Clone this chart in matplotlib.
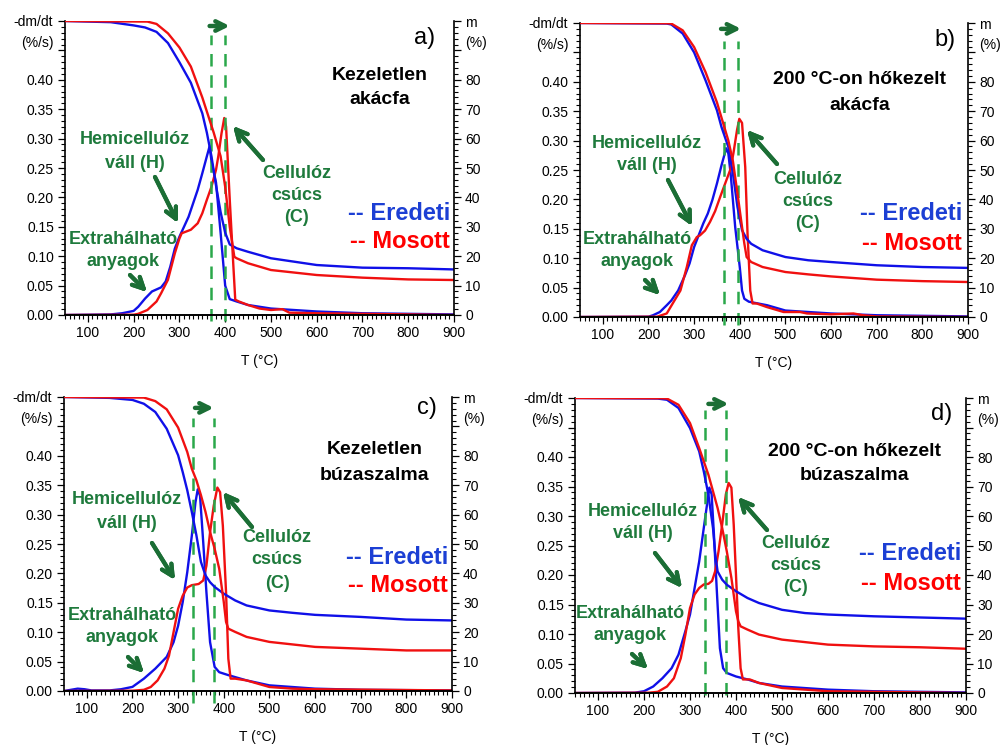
import numpy as np
import matplotlib.pyplot as plt
from matplotlib.ticker import MultipleLocator, FixedLocator, FuncFormatter

plt.rcParams['font.family'] = ['Liberation Sans', 'DejaVu Sans']

# ---- adatok (leolvasva az abrarol) ----
# a) Kezeletlen akacfa
a_tg_e_T = [50, 150, 200, 225, 250, 275, 300, 325, 350, 360, 370, 380, 390, 400, 410, 425, 450, 500, 600, 700, 800, 900]
a_tg_e = [100, 99.6, 98.5, 97.8, 96.3, 92.5, 86, 79, 68.6, 62, 54, 44, 35, 28, 24, 22.7, 21.5, 19.3, 17, 16.1, 15.9, 15.5]
a_tg_m_T = [50, 230, 250, 275, 300, 325, 350, 375, 390, 400, 410, 420, 425, 450, 500, 600, 700, 800, 900]
a_tg_m = [100, 99.8, 99, 95.8, 91, 84.5, 74, 62, 54, 43.6, 30, 19.8, 19.3, 17.6, 15.3, 13.6, 12.7, 12.1, 11.9]
a_dtg_e_T = [50, 150, 175, 200, 210, 225, 240, 260, 270, 280, 290, 300, 310, 320, 330, 340, 350, 360, 366, 370,
             380, 390, 400, 410, 425, 450, 500, 550, 600, 700, 800, 900]
a_dtg_e = [0.0, 0.001, 0.003, 0.007, 0.014, 0.028, 0.040, 0.047, 0.057, 0.082, 0.113, 0.133, 0.150, 0.167, 0.190,
           0.213, 0.241, 0.270, 0.287, 0.262, 0.225, 0.140, 0.050, 0.027, 0.023, 0.017, 0.011, 0.0085, 0.006, 0.003,
           0.002, 0.001]
a_dtg_m_T = [50, 200, 210, 230, 250, 260, 275, 290, 300, 305, 315, 325, 340, 350, 360, 370, 380, 385, 392, 398, 402,
             410, 418, 422, 430, 450, 475, 500, 525, 540, 600, 700, 900]
a_dtg_m = [0, 0.0005, 0.002, 0.0085, 0.023, 0.037, 0.060, 0.105, 0.130, 0.139, 0.142, 0.145, 0.156, 0.173, 0.196,
           0.218, 0.247, 0.270, 0.309, 0.335, 0.320, 0.196, 0.082, 0.026, 0.023, 0.017, 0.011, 0.0085, 0.010, 0.004,
           0.003, 0.002, 0.0]

# b) 200 °C-on hokezelt akacfa
b_tg_e_T = [50, 240, 250, 275, 300, 325, 350, 360, 375, 385, 395, 405, 415, 425, 450, 500, 550, 600, 700, 800, 900]
b_tg_e = [100, 99.8, 99.5, 96.4, 90, 80.5, 70.3, 64.6, 57.8, 48.8, 37.4, 29.5, 26.6, 24.9, 22.7, 20.4, 19.3, 18.7,
          17.6, 17.0, 16.7]
b_tg_m_T = [50, 240, 250, 275, 300, 325, 350, 375, 385, 395, 405, 410, 415, 425, 450, 500, 550, 600, 700, 800, 900]
b_tg_m = [100, 99.9, 99.8, 97.5, 91.8, 83.3, 73, 60, 53, 42, 30.6, 25, 20.4, 18.7, 17, 15.3, 14.5, 13.8, 12.7, 12.2,
          11.9]
b_dtg_e_T = [50, 200, 210, 225, 240, 250, 265, 280, 290, 300, 310, 320, 330, 340, 350, 360, 365, 370, 375, 380, 390,
             400, 405, 410, 420, 440, 460, 500, 550, 600, 650, 700, 900]
b_dtg_e = [0, 0.0005, 0.003, 0.0085, 0.020, 0.028, 0.045, 0.071, 0.091, 0.119, 0.139, 0.159, 0.176, 0.199, 0.227,
           0.258, 0.272, 0.287, 0.278, 0.244, 0.153, 0.085, 0.045, 0.031, 0.026, 0.023, 0.020, 0.011, 0.0085, 0.006,
           0.0045, 0.003, 0.001]
b_dtg_m_T = [50, 219, 240, 270, 284, 295, 306, 313, 324, 335, 346, 357, 368, 379, 386, 394, 399, 405, 412, 417, 423,
             428, 437, 459, 496, 532, 547, 600, 649, 670, 700, 900]
b_dtg_m = [0, 0.0005, 0.006, 0.045, 0.085, 0.122, 0.136, 0.139, 0.147, 0.162, 0.180, 0.204, 0.227, 0.250, 0.278,
           0.318, 0.337, 0.330, 0.255, 0.142, 0.045, 0.023, 0.023, 0.017, 0.0085, 0.0085, 0.006, 0.0045, 0.006, 0.003,
           0.001, 0.0]

# c) Kezeletlen buzaszalma
c_tg_e_T = [50, 150, 200, 225, 250, 275, 300, 310, 320, 330, 340, 350, 360, 370, 380, 400, 425, 450, 500, 550, 600,
            700, 800, 900]
c_tg_e = [100, 99.7, 99, 97.7, 94.9, 89.2, 80.2, 74.5, 68.3, 60.9, 53, 43.9, 39.3, 37, 35.4, 33.1, 30.8, 29.1, 27.4,
          26.6, 25.9, 25.2, 24.3, 24]
c_tg_m_T = [50, 225, 250, 275, 300, 320, 330, 340, 350, 360, 370, 380, 390, 400, 405, 410, 425, 450, 500, 600, 700,
            800, 900]
c_tg_m = [100, 99.8, 98.6, 95.8, 89.6, 81.3, 75.6, 71.7, 66.6, 60.9, 54.1, 48.4, 41.6, 30.3, 23.5, 21.2, 20.1, 18.4,
          16.7, 15, 14.4, 13.8, 13.8]
c_dtg_e_T = [50, 65, 80, 95, 110, 150, 175, 200, 225, 250, 275, 290, 300, 310, 320, 330, 338, 343, 348, 355, 362, 370,
             380, 390, 410, 450, 500, 600, 700, 900]
c_dtg_e = [0, 0.002, 0.004, 0.003, 0.001, 0.001, 0.003, 0.007, 0.021, 0.038, 0.058, 0.083, 0.111, 0.151, 0.202,
           0.264, 0.321, 0.343, 0.332, 0.253, 0.168, 0.083, 0.041, 0.032, 0.027, 0.018, 0.0096, 0.004, 0.002, 0.001]
c_dtg_m_T = [50, 200, 225, 240, 255, 270, 280, 290, 300, 310, 320, 330, 345, 355, 362, 370, 378, 386, 392, 398, 405,
             410, 415, 425, 450, 500, 550, 600, 900]
c_dtg_m = [0, 0.0005, 0.002, 0.0068, 0.018, 0.038, 0.060, 0.100, 0.140, 0.162, 0.176, 0.180, 0.182, 0.188, 0.213,
           0.270, 0.315, 0.346, 0.338, 0.281, 0.168, 0.055, 0.021, 0.021, 0.018, 0.0068, 0.004, 0.003, 0.001]

# d) 200 °C-on hokezelt buzaszalma
d_tg_e_T = [50, 230, 250, 275, 300, 320, 330, 340, 350, 355, 360, 370, 380, 400, 425, 450, 500, 550, 600, 700, 800, 900]
d_tg_e = [100, 99.8, 99.4, 96.6, 89.8, 81.9, 75.1, 67.2, 55.9, 46.9, 41.2, 38.4, 36.7, 34.5, 32.2, 30.5, 28.2, 27.1,
          26.6, 26, 25.6, 25.2]
d_tg_m_T = [50, 240, 250, 275, 300, 320, 330, 340, 350, 360, 370, 380, 390, 400, 405, 410, 425, 450, 500, 600, 700,
            800, 900]
d_tg_m = [100, 99.9, 99.8, 97.7, 91.5, 83, 78.5, 74, 68.4, 62.7, 55.9, 48, 39, 27.7, 24.3, 22.6, 21.5, 19.8, 18.1,
          16.4, 15.8, 15.5, 15]
d_dtg_e_T = [50, 180, 200, 220, 240, 260, 275, 290, 300, 310, 320, 330, 338, 342, 347, 352, 358, 365, 372, 380, 400,
             425, 450, 500, 600, 700, 900]
d_dtg_e = [0, 0.0005, 0.003, 0.011, 0.025, 0.042, 0.065, 0.105, 0.133, 0.178, 0.223, 0.280, 0.325, 0.348, 0.337,
           0.269, 0.178, 0.076, 0.042, 0.034, 0.028, 0.023, 0.017, 0.011, 0.0057, 0.003, 0.001]
d_dtg_m_T = [50, 210, 230, 250, 265, 280, 290, 300, 310, 320, 330, 340, 348, 355, 362, 370, 378, 384, 390, 395, 400,
             405, 410, 415, 430, 450, 500, 600, 900]
d_dtg_m = [0, 0.0005, 0.002, 0.011, 0.025, 0.059, 0.099, 0.144, 0.167, 0.178, 0.184, 0.185, 0.190, 0.207, 0.240,
           0.286, 0.337, 0.356, 0.348, 0.286, 0.200, 0.110, 0.042, 0.023, 0.023, 0.017, 0.0085, 0.003, 0.0]

# H es C csucs helye (szaggatott vonalak) es a nyil T-tartomanya
a_peaks = [369, 400]
b_peaks = [366, 397]
c_peaks = [332, 379]
d_peaks = [333, 379]
a_shift = [366, 410]
b_shift = [359, 403]
c_shift = [337, 378]
d_shift = [340, 384]

letters = ['a)', 'b)', 'c)', 'd)']
titles = [['Kezeletlen', 'akácfa'], ['200 °C-on hőkezelt', 'akácfa'],
          ['Kezeletlen', 'búzaszalma'], ['200 °C-on hőkezelt', 'búzaszalma']]
green_lines = ['Hemicellulóz', 'váll (H)', 'Extrahálható', 'anyagok', 'Cellulóz', 'csúcs', '(C)']
series_names = ['-- Eredeti', '-- Mosott']

BLUE = '#1010e8'
RED = '#f01010'
GREEN_TXT = '#1e7a3c'
GREEN_ARR = '#1b6e35'
GREEN_DASH = '#2aa84a'

W, H = 1003, 745
fig = plt.figure(figsize=(W / 100, H / 100), dpi=100)


def fxy(x, y):
    return (x / W, 1 - y / H)


def panel(rect, tg_e, tg_m, dtg_e, dtg_m, peaks, shift, arr_y, dash_span):
    ax = fig.add_axes(rect)
    ax2 = ax.twinx()
    ax.plot(dtg_e[0], dtg_e[1], color=BLUE, lw=1.7)
    ax.plot(dtg_m[0], dtg_m[1], color=RED, lw=1.7)
    ax2.plot(tg_e[0], tg_e[1], color=BLUE, lw=1.7)
    ax2.plot(tg_m[0], tg_m[1], color=RED, lw=1.7)

    ax.set_xlim(50, 900)
    ax.set_ylim(0, 0.5)
    ax2.set_ylim(0, 100)
    for p in peaks:
        ax.axvline(p, ymin=dash_span[0], ymax=dash_span[1], color=GREEN_DASH, lw=1.8,
                   dashes=(5, 3.5), clip_on=False)
    ax.annotate('', xy=(shift[1], arr_y), xytext=(shift[0], arr_y), xycoords=ax.get_xaxis_transform(),
                arrowprops=dict(arrowstyle='->', color=GREEN_ARR, lw=3.2, mutation_scale=17,
                                shrinkA=0, shrinkB=0), annotation_clip=False)

    for a in (ax, ax2):
        a.spines['top'].set_visible(False)
        for s in a.spines.values():
            s.set_linewidth(1.2)
    ax.spines['right'].set_visible(False)
    ax2.spines['left'].set_visible(False)

    ax.xaxis.set_major_locator(FixedLocator(range(100, 901, 100)))
    ax.xaxis.set_minor_locator(MultipleLocator(10))
    ax.yaxis.set_major_locator(MultipleLocator(0.05))
    ax.yaxis.set_minor_locator(MultipleLocator(0.01))
    ax.yaxis.set_major_formatter(FuncFormatter(lambda v, p: f'{v:.2f}' if v < 0.43 else ''))
    ax2.yaxis.set_major_locator(MultipleLocator(10))
    ax2.yaxis.set_minor_locator(MultipleLocator(2))
    ax2.yaxis.set_major_formatter(FuncFormatter(lambda v, p: f'{v:.0f}' if v < 85 else ''))
    for a in (ax, ax2):
        a.tick_params(which='major', direction='out', length=5, width=0.9, labelsize=10, pad=3)
        a.tick_params(which='minor', direction='out', length=2.8, width=0.8)

    ax.set_xlabel('T (°C)', fontsize=10, labelpad=10)
    ax.text(-0.03, 0.997, '-dm/dt', transform=ax.transAxes, ha='right', va='center', fontsize=10)
    ax.text(-0.03, 0.925, '(%/s)', transform=ax.transAxes, ha='right', va='center', fontsize=10)
    ax2.text(1.028, 0.993, 'm', transform=ax.transAxes, ha='left', va='center', fontsize=10)
    ax2.text(1.028, 0.925, '(%)', transform=ax.transAxes, ha='left', va='center', fontsize=10)
    return ax


rects = [
    [65 / W, 1 - 315 / H, 389 / W, 294 / H],
    [580 / W, 1 - 317 / H, 388 / W, 294 / H],
    [64 / W, 1 - 691 / H, 388 / W, 294 / H],
    [575 / W, 1 - 693 / H, 391 / W, 295 / H],
]

panel(rects[0], (a_tg_e_T, a_tg_e), (a_tg_m_T, a_tg_m), (a_dtg_e_T, a_dtg_e), (a_dtg_m_T, a_dtg_m),
      a_peaks, a_shift, 0.983, (-0.02, 0.952))
panel(rects[1], (b_tg_e_T, b_tg_e), (b_tg_m_T, b_tg_m), (b_dtg_e_T, b_dtg_e), (b_dtg_m_T, b_dtg_m),
      b_peaks, b_shift, 0.98, (-0.027, 0.94))
panel(rects[2], (c_tg_e_T, c_tg_e), (c_tg_m_T, c_tg_m), (c_dtg_e_T, c_dtg_e), (c_dtg_m_T, c_dtg_m),
      c_peaks, c_shift, 0.963, (-0.04, 0.93))
panel(rects[3], (d_tg_e_T, d_tg_e), (d_tg_m_T, d_tg_m), (d_dtg_e_T, d_dtg_e), (d_dtg_m_T, d_dtg_m),
      d_peaks, d_shift, 0.98, (-0.007, 0.96))

# feliratok helye pixelben (x, y felulrol)
green_pos = [
    [(135, 140), (135, 163), (123, 239), (123, 261), (297, 173), (297, 195), (297, 218)],
    [(647, 143), (647, 166), (637, 239), (637, 261), (808, 179), (808, 201), (808, 224)],
    [(127, 500), (127, 523), (122, 616), (122, 638), (277, 538), (277, 560), (277, 583)],
    [(643, 512), (643, 534), (630, 613), (630, 635), (796, 543), (796, 566), (796, 588)],
]
arrow_pos = [
    [((155, 177), (178, 223)), ((130, 275), (147, 292)), ((263, 160), (233, 126))],
    [((668, 180), (692, 226)), ((645, 280), (660, 295)), ((777, 164), (747, 130))],
    [((152, 543), (175, 580)), ((128, 657), (144, 673)), ((252, 527), (223, 492))],
    [((655, 553), (682, 588)), ((632, 654), (648, 669)), ((767, 530), (738, 497))],
]
title_pos = [[(380, 75), (380, 100)], [(860, 79), (860, 105)], [(375, 450), (375, 475)], [(855, 451), (855, 475)]]
letter_pos = [(425, 38), (945, 40), (427, 408), (942, 414)]
legend_pos = [(450, 213, 242), (962, 213, 243), (448, 557, 586), (961, 554, 583)]

for i in range(4):
    for txt, (x, y) in zip(green_lines, green_pos[i]):
        fig.text(*fxy(x, y), txt, ha='center', va='center', fontsize=13, fontweight='bold', color=GREEN_TXT)
    for (x0, y0), (x1, y1) in arrow_pos[i]:
        fig.add_artist(plt.annotate('', xy=fxy(x1, y1), xytext=fxy(x0, y0), xycoords='figure fraction',
                                    arrowprops=dict(arrowstyle='->', color=GREEN_ARR, lw=3, mutation_scale=20,
                                                    shrinkA=0, shrinkB=0)))
    for txt, (x, y) in zip(titles[i], title_pos[i]):
        fig.text(*fxy(x, y), txt, ha='center', va='center', fontsize=14, fontweight='bold', color='black')
    fig.text(*fxy(*letter_pos[i]), letters[i], ha='center', va='center', fontsize=17)
    xr, ye, ym = legend_pos[i]
    fig.text(*fxy(xr, ye), series_names[0], ha='right', va='center', fontsize=17, fontweight='bold', color='#1c3fd4')
    fig.text(*fxy(xr, ym), series_names[1], ha='right', va='center', fontsize=17, fontweight='bold', color='#ff0000')

fig.savefig('out.png', dpi=100)
